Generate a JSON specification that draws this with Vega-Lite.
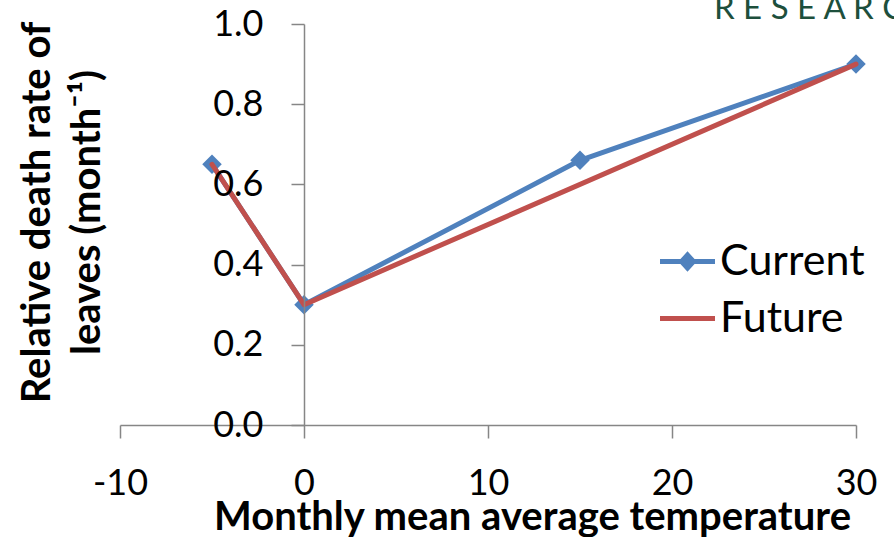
{
  "$schema": "https://vega.github.io/schema/vega-lite/v6.json",
  "autosize": "none",
  "width": 736,
  "height": 401,
  "padding": {"left": 120, "top": 24, "right": 38, "bottom": 112},
  "background": "white",
  "config": {"view": {"stroke": null}},
  "title": {"text": "R E S E A R C H", "anchor": "start", "frame": "group", "dx": 594, "offset": -20, "fontSize": 33, "font": "Lato", "fontWeight": "normal", "color": "#1d4f3c"},
  "data": {"values": [
    {"series": "Current", "temp": -5, "rate": 0.65},
    {"series": "Current", "temp": 0, "rate": 0.30},
    {"series": "Current", "temp": 15, "rate": 0.66},
    {"series": "Current", "temp": 30, "rate": 0.90},
    {"series": "Future", "temp": -5, "rate": 0.65},
    {"series": "Future", "temp": 0, "rate": 0.30},
    {"series": "Future", "temp": 30, "rate": 0.90}
  ]},
  "encoding": {
    "x": {"field": "temp", "type": "quantitative", "scale": {"domain": [-10, 30], "nice": false, "zero": false},
      "axis": {"values": [-10, 0, 10, 20, 30], "labelExpr": "datum.value < 0 ? '-' + (-datum.value) : '' + datum.value", "grid": false, "domainColor": "#868686", "domainWidth": 1.5, "tickColor": "#868686", "tickWidth": 1.5, "tickSize": 13, "labelFont": "Lato", "labelFontSize": 36, "labelColor": "black", "labelPadding": 28, "labelFlush": false, "labelOverlap": false, "title": "Monthly mean average temperature", "titleFont": "Lato", "titleFontSize": 40, "titleFontWeight": "bold", "titleColor": "black", "titleX": 412, "titleY": 104, "titleAlign": "center", "titleBaseline": "alphabetic", "zindex": 1}},
    "y": {"field": "rate", "type": "quantitative", "scale": {"domain": [0, 1], "nice": false},
      "axis": {"values": [0, 0.2, 0.4, 0.6, 0.8, 1], "format": ".1f", "offset": -184, "grid": false, "domainColor": "#868686", "domainWidth": 1.5, "tickColor": "#868686", "tickWidth": 1.5, "tickSize": 13, "labelFont": "Lato", "labelFontSize": 36, "labelColor": "black", "labelPadding": 28, "labelFlush": false, "labelOverlap": false, "zindex": 1, "title": ["Relative death rate of", "leaves (month⁻¹)"], "titleFont": "Lato", "titleFontSize": 40, "titleFontWeight": "bold", "titleColor": "black", "titleLineHeight": 50, "titleX": -267, "titleY": 188, "titleAlign": "center", "titleBaseline": "middle", "titleAngle": 270}}
  },
  "layer": [
    {"transform": [{"filter": "datum.series === 'Current'"}],
     "mark": {"type": "line", "strokeWidth": 5, "strokeJoin": "round", "strokeCap": "round"},
     "encoding": {"color": {"field": "series", "type": "nominal", "scale": {"domain": ["Current", "Future"], "range": ["#4F81BD", "#C0504D"]},
       "legend": {"title": null, "orient": "none", "legendX": 540, "legendY": 210, "padding": 0, "labelFont": "Lato", "labelFontSize": 43, "labelColor": "black", "labelLimit": 400, "labelOffset": 5, "rowPadding": 7, "symbolSize": 3025,
         "encode": {"symbols": {"update": {"shape": {"signal": "datum.value === 'Current' ? 'M-1,-0.09L1,-0.09L1,0.09L-1,0.09Z M0,-0.37L0.34,0L0,0.37L-0.34,0Z' : 'M-1,-0.09L1,-0.09L1,0.09L-1,0.09Z'"}, "fill": {"scale": "color", "field": "value"}, "stroke": {"value": "transparent"}, "strokeWidth": {"value": 0}, "opacity": {"value": 1}, "fillOpacity": {"value": 1}}}}}}}},
    {"transform": [{"filter": "datum.series === 'Current'"}],
     "mark": {"type": "point", "shape": "diamond", "filled": true, "size": 380, "color": "#4F81BD", "opacity": 1}},
    {"transform": [{"filter": "datum.series === 'Future'"}],
     "mark": {"type": "line", "strokeWidth": 5, "strokeJoin": "round", "strokeCap": "round"},
     "encoding": {"color": {"field": "series", "type": "nominal"}}}
  ]
}
